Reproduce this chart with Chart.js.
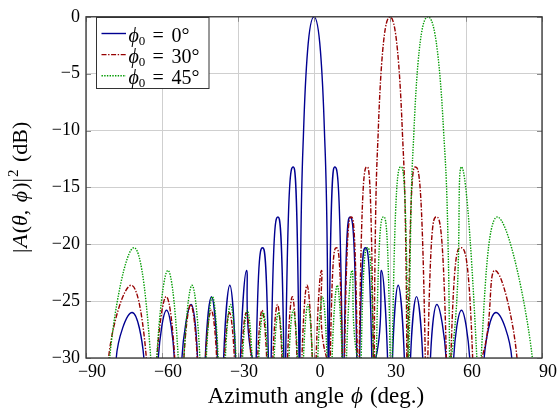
<!DOCTYPE html>
<html>
<head>
<meta charset="utf-8">
<script src="https://cdn.jsdelivr.net/npm/chart.js@4.4.1/dist/chart.umd.min.js"></script>
<style>
  html, body { margin: 0; padding: 0; background: #fff; }
  #wrap { width: 558px; height: 411px; }
</style>
</head>
<body>
<div id="wrap"><canvas id="pattern" width="558" height="411"></canvas></div>
<script>
// steering angles phi_0 (deg), one curve each
const steerAngles = [0, 30, 45];

// lobe outlines: azimuth (deg) and gain (dB). Each side lobe is
// [enters at -30 dB, peak, leaves at -30 dB]; main lobes have extra points.
const azimuth0 = [
  -78.06, -71.81, -67.15, -61.47, -58.21, -55.13, -52.14, -48.50, -45.97,
  -42.92, -40.47, -38.11, -35.66, -33.23, -30.99, -29.03, -26.62, -24.34,
  -22.82, -20.30, -18.02, -16.90, -14.24, -11.90, -11.18, -8.22, -5.92,
  -5.56, -5.20, -4.11, -2.54, 0, 2.54, 4.11, 5.20, 5.56,
  5.92, 8.22, 11.18, 11.90, 14.24, 16.90, 18.02, 20.30, 22.82,
  24.34, 26.62, 29.03, 30.99, 33.23, 35.66, 38.11, 40.47, 42.92,
  45.97, 48.50, 52.14, 55.13, 58.21, 61.47, 67.15, 71.81, 78.06
];
const gain0 = [
  -30, -26.0, -30, -30, -25.8, -30, -30, -25.3, -30,
  -30, -24.6, -30, -30, -23.6, -30, -30, -22.3, -30,
  -30, -20.3, -30, -30, -17.6, -30, -30, -13.2, -30,
  -30, -20, -10, -3, 0, -3, -10, -20, -30,
  -30, -13.2, -30, -30, -17.6, -30, -30, -20.3, -30,
  -30, -22.3, -30, -30, -23.6, -30, -30, -24.6, -30,
  -30, -25.3, -30, -30, -25.8, -30, -30, -26.0, -30
];

const azimuth30 = [
  -81.08, -72.17, -66.18, -62.00, -58.32, -54.99, -51.35, -48.68, -46.10,
  -42.81, -40.54, -38.43, -35.35, -33.37, -31.45, -28.57, -26.74, -24.93,
  -22.24, -20.49, -18.69, -16.23, -14.42, -12.65, -10.43, -8.57, -6.73,
  -4.76, -2.75, -0.69, 0.85, 2.98, 5.04, 6.44, 8.80, 11.18,
  12.08, 14.72, 17.09, 17.83, 20.92, 23.39,
  23.78, 24.16, 25.37, 27.11, 30.00, 32.98, 34.86, 36.21, 36.64,
  37.09, 40.02, 43.93, 44.93, 48.24, 52.25, 54.03, 57.89, 62.62,
  66.18, 71.44, 80.13
];
const gain30 = [
  -30, -23.6, -30, -30, -24.6, -30, -30, -25.3, -30,
  -30, -25.8, -30, -30, -26.0, -30, -30, -26.0, -30,
  -30, -25.8, -30, -30, -25.3, -30, -30, -24.6, -30,
  -30, -23.6, -30, -30, -22.3, -30, -30, -20.3, -30,
  -30, -17.6, -30, -30, -13.2, -30,
  -30, -20, -10, -3, 0, -3, -10, -20, -30,
  -30, -13.2, -30, -30, -17.6, -30, -30, -20.3, -30,
  -30, -22.3, -30
];

const azimuth45 = [
  -80.65, -71.07, -64.45, -62.07, -57.67, -53.61, -51.34, -48.15, -45.05,
  -42.51, -40.09, -37.84, -34.99, -32.95, -30.79, -28.19, -26.29, -24.48,
  -21.80, -20.05, -18.34, -15.73, -14.06, -12.38, -9.87, -8.22, -6.51,
  -4.15, -2.40, -0.68, 1.50, 3.33, 5.16, 7.14, 9.16, 11.09,
  12.82, 15.02, 17.16, 18.62, 21.11, 23.44, 24.61, 27.47, 30.06,
  30.88, 34.34, 37.16,
  37.61, 38.05, 39.46, 41.52, 45.00, 48.71, 51.14, 52.92, 53.51,
  54.12, 58.22, 64.28, 65.97, 72.36, 86.20
];
const gain45 = [
  -30, -20.3, -30, -30, -22.3, -30, -30, -23.6, -30,
  -30, -24.6, -30, -30, -25.3, -30, -30, -25.8, -30,
  -30, -26.0, -30, -30, -26.0, -30, -30, -25.8, -30,
  -30, -25.3, -30, -30, -24.6, -30, -30, -23.6, -30,
  -30, -22.3, -30, -30, -20.3, -30, -30, -17.6, -30,
  -30, -13.2, -30,
  -30, -20, -10, -3, 0, -3, -10, -20, -30,
  -30, -13.2, -30, -30, -17.6, -30
];

const xTicks = [-90, -60, -30, 0, 30, 60, 90];
const FLOOR = -30;

const SERIF = "'Liberation Serif', 'Times New Roman', 'DejaVu Serif', serif";

const series = [
  { angle: steerAngles[0], phi: azimuth0, gain: gain0, color: 'rgb(0,0,145)', dash: [], order: 3 },
  { angle: steerAngles[1], phi: azimuth30, gain: gain30, color: 'rgb(150,0,0)', dash: [5, 1.6, 1.4, 1.6], order: 2 },
  { angle: steerAngles[2], phi: azimuth45, gain: gain45, color: 'rgb(0,155,0)', dash: [1.4, 1.3], order: 1 }
];

// cut a curve into lobes: a lobe ends where two floor points meet
function splitLobes(phi, gain) {
  const lobes = [];
  let cur = [];
  for (let i = 0; i < phi.length; i++) {
    if (i > 0 && gain[i] <= FLOOR && gain[i - 1] <= FLOOR) {
      lobes.push(cur);
      cur = [];
    }
    cur.push({ x: phi[i], y: gain[i] });
  }
  lobes.push(cur);
  return lobes;
}

// between two lobes the pattern drops into a null below the plot floor
function withDips(lobes) {
  const dip = FLOOR - 15;
  const pts = [];
  lobes.forEach((lobe, k) => {
    const start = lobe[0].x;
    if (k === 0) pts.push({ x: start - 0.3, y: dip });
    else pts.push({ x: (pts[pts.length - 1].x + start) / 2, y: dip });
    pts.push(...lobe);
  });
  pts.push({ x: pts[pts.length - 1].x + 0.3, y: dip });
  return pts;
}

const peakOf = lobe => Math.max(...lobe.map(p => p.y));
const widthOf = lobe => lobe[lobe.length - 1].x - lobe[0].x;

// tall narrow lobes (and main lobes) keep a flat crest with the monotone
// spline, the low or wide ones read better with a plain cardinal spline
const isSharp = lobe => lobe.length > 3 || (peakOf(lobe) > -21 && widthOf(lobe) < 9);

const datasets = [];
series.forEach(s => {
  const lobes = splitLobes(s.phi, s.gain);
  const style = { borderColor: s.color, borderWidth: 1.4, borderDash: s.dash, order: s.order };
  datasets.push({ ...style, label: `phi0 = ${s.angle}`, data: withDips(lobes.filter(isSharp)), cubicInterpolationMode: 'monotone' });
  datasets.push({ ...style, label: `phi0 = ${s.angle} (wide)`, data: withDips(lobes.filter(l => !isSharp(l))), tension: 0.4 });
});

const minus = v => String(v).replace('-', '\u2212');

// inner tick marks and the dark box around the plot
const framePlugin = {
  id: 'frame',
  afterDatasetsDraw(chart) {
    const { ctx, chartArea: a, scales: { x, y } } = chart;
    ctx.save();
    ctx.strokeStyle = '#8c8c8c';
    ctx.lineWidth = 1;
    ctx.beginPath();
    x.ticks.forEach(t => {
      const px = Math.round(x.getPixelForValue(t.value)) + 0.5;
      ctx.moveTo(px, a.bottom); ctx.lineTo(px, a.bottom - 5);
      ctx.moveTo(px, a.top); ctx.lineTo(px, a.top + 5);
    });
    y.ticks.forEach(t => {
      const py = Math.round(y.getPixelForValue(t.value)) + 0.5;
      ctx.moveTo(a.left, py); ctx.lineTo(a.left + 5, py);
      ctx.moveTo(a.right, py); ctx.lineTo(a.right - 5, py);
    });
    ctx.stroke();
    ctx.strokeStyle = '#333';
    ctx.lineWidth = 1.3;
    ctx.strokeRect(a.left, a.top, a.right - a.left, a.bottom - a.top);
    ctx.restore();
  }
};

// draw a row of text pieces with their own fonts, centred on cx
function drawRuns(ctx, runs, cx, baseline) {
  let total = 0;
  runs.forEach(r => { ctx.font = r.font; r.w = ctx.measureText(r.t).width; total += r.w + (r.gap || 0); });
  let x = cx - total / 2;
  ctx.textAlign = 'left';
  ctx.textBaseline = 'alphabetic';
  runs.forEach(r => {
    ctx.font = r.font;
    ctx.fillText(r.t, x, baseline + (r.dy || 0));
    x += r.w + (r.gap || 0);
  });
}

const titlePlugin = {
  id: 'axisTitles',
  afterDraw(chart) {
    const { ctx, chartArea: a } = chart;
    const up = `23px ${SERIF}`, it = `italic 23px ${SERIF}`;
    ctx.save();
    ctx.fillStyle = '#000';
    drawRuns(ctx, [
      { t: 'Azimuth', font: up, gap: 6 },
      { t: 'angle', font: up, gap: 7 },
      { t: '\u03d5', font: it, gap: 7 },
      { t: '(deg.)', font: up }
    ], (a.left + a.right) / 2 + 2, 403);

    const yUp = `22px ${SERIF}`, yIt = `italic 22px ${SERIF}`;
    ctx.translate(27, (a.top + a.bottom) / 2);
    ctx.rotate(-Math.PI / 2);
    drawRuns(ctx, [
      { t: '|', font: yUp, gap: 1 },
      { t: 'A', font: yIt, gap: 1 },
      { t: '(', font: yUp },
      { t: '\u03b8', font: yIt },
      { t: ', ', font: yUp, gap: 2 },
      { t: '\u03d5', font: yIt, gap: 1 },
      { t: ')|', font: yUp, gap: 1 },
      { t: '2', font: `15px ${SERIF}`, dy: -9, gap: 2 },
      { t: ' (dB)', font: yUp }
    ], 0, 0);
    ctx.restore();
  }
};

// boxed legend in the upper left corner of the plot
const legendPlugin = {
  id: 'legendBox',
  afterDraw(chart) {
    const { ctx } = chart;
    ctx.save();
    ctx.fillStyle = '#fff';
    ctx.fillRect(96.5, 17.5, 112.5, 71);
    ctx.strokeStyle = '#333';
    ctx.lineWidth = 1;
    ctx.strokeRect(96.5, 17.5, 112.5, 71);
    series.forEach((s, i) => {
      const ly = 33.5 + 21.15 * i;
      ctx.strokeStyle = s.color;
      ctx.lineWidth = 1.4;
      ctx.setLineDash(s.dash);
      ctx.beginPath();
      ctx.moveTo(101.5, ly);
      ctx.lineTo(126, ly);
      ctx.stroke();
      ctx.setLineDash([]);
      const base = ly + 8.5;
      ctx.fillStyle = '#000';
      ctx.textBaseline = 'alphabetic';
      ctx.textAlign = 'left';
      ctx.font = `italic 20px ${SERIF}`;
      ctx.fillText('\u03d5', 128.5, base);
      const w = ctx.measureText('\u03d5').width;
      ctx.font = `13px ${SERIF}`;
      ctx.fillText('0', 128.5 + w, base + 3);
      ctx.font = `20px ${SERIF}`;
      ctx.fillText('=', 152.5, base);
      ctx.fillText(`${s.angle}\u00b0`, 171.5, base);
    });
    ctx.restore();
  }
};

const ctx = document.getElementById('pattern').getContext('2d');

new Chart(ctx, {
  type: 'line',
  data: { datasets },
  options: {
    responsive: false,
    animation: false,
    parsing: false,
    layout: { padding: { top: 10, right: 16, left: 0, bottom: 0 } },
    elements: {
      point: { radius: 0 },
      line: { fill: false, capBezierPoints: false }
    },
    plugins: {
      legend: { display: false },
      tooltip: { enabled: false }
    },
    scales: {
      x: {
        type: 'linear',
        min: -90,
        max: 90,
        afterBuildTicks: scale => { scale.ticks = xTicks.map(v => ({ value: v })); },
        afterFit: scale => { scale.height = 53; },
        grid: { color: '#cfcfcf', lineWidth: 1, drawTicks: false },
        border: { display: false },
        ticks: {
          padding: 3,
          labelOffset: 6,
          maxRotation: 0,
          autoSkip: false,
          color: '#000',
          font: { family: SERIF, size: 18 },
          callback: minus
        }
      },
      y: {
        min: -30,
        max: 0,
        afterFit: scale => { scale.width = 86; },
        grid: { color: '#cfcfcf', lineWidth: 1, drawTicks: false },
        border: { display: false },
        ticks: {
          stepSize: 5,
          padding: 6,
          color: '#000',
          font: { family: SERIF, size: 18 },
          callback: minus
        }
      }
    }
  },
  plugins: [framePlugin, titlePlugin, legendPlugin]
});
</script>
</body>
</html>
